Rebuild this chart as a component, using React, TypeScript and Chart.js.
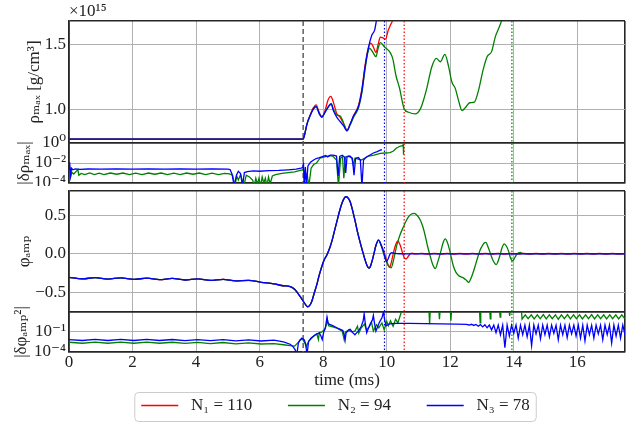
import React, { useEffect, useRef } from 'react';
import { Chart, registerables } from 'chart.js';

Chart.register(...registerables);

// ---------------- data ----------------
const TIME_TICKS = [0, 2, 4, 6, 8, 10, 12, 14, 16];
const T_MAX = 17.5;
const RHO_TICKS = [1.0, 1.5];
const DRHO_TICKS = [1e-4, 1e-2, 1];
const PHI_TICKS = [-0.5, 0, 0.5];
const DPHI_TICKS = [1e-4, 1e-1];
const SERIES_LABELS = ['N₁ = 110', 'N₂ = 94', 'N₃ = 78'];
const SERIES_COLORS = ['#ff0000', '#008000', '#0000ff'];
const MARKER_TIMES = [7.37, 9.93, 10.55, 13.94];
const MARKER_COLORS = ['#555555', '#0000ff', '#ff0000', '#008000'];
const RHO_SCALE_LABEL = '×10¹⁵';

type P = [number, number][];

const rhoN1: P = [[0, 0.771], [7.37, 0.771], [7.43, 0.82], [7.49, 0.886], [7.59, 0.955], [7.69, 1.01], [7.78, 1.034], [7.86, 0.985], [7.96, 0.945], [8.06, 0.99], [8.15, 1.07], [8.24, 1.10], [8.32, 1.055], [8.43, 0.965], [8.53, 0.94], [8.62, 0.9], [8.75, 0.84], [8.85, 0.886], [8.96, 0.951], [9.11, 1.03], [9.22, 1.16], [9.32, 1.34], [9.42, 1.47], [9.50, 1.509], [9.58, 1.48], [9.66, 1.436], [9.73, 1.5], [9.80, 1.556], [9.88, 1.55], [9.96, 1.54], [10.05, 1.61], [10.12, 1.65], [10.19, 1.685], [10.25, 1.72]];
const rhoN2: P = [[0, 0.77], [7.37, 0.77], [7.43, 0.82], [7.49, 0.886], [7.59, 0.951], [7.69, 1.0], [7.78, 1.02], [7.88, 0.964], [7.96, 0.94], [8.06, 0.977], [8.16, 1.02], [8.25, 1.045], [8.34, 0.99], [8.43, 0.955], [8.53, 0.95], [8.6, 0.92], [8.68, 0.87], [8.75, 0.834], [8.85, 0.88], [8.96, 0.94], [9.11, 1.01], [9.22, 1.13], [9.32, 1.31], [9.40, 1.43], [9.46, 1.47], [9.56, 1.44], [9.66, 1.405], [9.73, 1.47], [9.80, 1.514], [9.93, 1.48], [10.09, 1.444], [10.19, 1.39], [10.29, 1.26], [10.40, 1.166], [10.55, 1.003], [10.69, 0.977], [10.90, 0.964], [11.06, 1.003], [11.17, 1.08], [11.27, 1.171], [11.42, 1.327], [11.56, 1.392], [11.69, 1.366], [11.83, 1.423], [11.95, 1.327], [12.05, 1.21], [12.16, 1.159], [12.26, 1.068], [12.37, 0.99], [12.47, 1.011], [12.61, 1.05], [12.76, 1.055], [12.89, 1.146], [13.03, 1.30], [13.16, 1.405], [13.30, 1.444], [13.42, 1.56], [13.53, 1.626], [13.63, 1.69], [13.7, 1.73]];
const rhoN3: P = [[0, 0.77], [7.37, 0.77], [7.43, 0.82], [7.49, 0.886], [7.59, 0.951], [7.69, 1.003], [7.78, 1.02], [7.88, 0.964], [7.96, 0.938], [8.06, 0.977], [8.17, 1.02], [8.25, 1.04], [8.32, 0.99], [8.43, 0.938], [8.53, 0.907], [8.64, 0.873], [8.75, 0.834], [8.85, 0.886], [8.96, 0.951], [9.11, 1.02], [9.22, 1.146], [9.32, 1.327], [9.43, 1.48], [9.53, 1.57], [9.62, 1.61], [9.68, 1.69], [9.72, 1.75]];

const drhoN2: P = [[0, 0.0009], [0.02, 0.004], [0.05, 0.0004], [0.09, 0.0012], [0.15, 0.0008], [0.28, 0.0022], [0.31, 0.0006], [0.38, 0.0009], [0.5, 0.0007], [0.65, 0.001], [0.8, 0.0007], [0.95, 0.00095], [1.1, 0.0007], [1.3, 0.001], [1.5, 0.00075], [1.7, 0.001], [1.9, 0.0007], [2.1, 0.00095], [2.3, 0.0007], [2.5, 0.001], [2.7, 0.00075], [2.9, 0.001], [3.1, 0.0007], [3.3, 0.00095], [3.5, 0.0007], [3.7, 0.001], [3.9, 0.00075], [4.1, 0.001], [4.3, 0.0007], [4.5, 0.00095], [4.7, 0.0007], [4.9, 0.0009], [5.05, 0.0008], [5.15, 0.0006], [5.22, 0.00005], [5.28, 0.0005], [5.33, 0.0002], [5.4, 0.0007], [5.5, 0.00005], [5.58, 0.0006], [5.68, 0.0004], [5.78, 0.0002], [5.83, 0.00005], [5.88, 0.0003], [5.93, 0.00008], [5.98, 0.0003], [6.03, 0.00005], [6.08, 0.0004], [6.13, 0.0001], [6.18, 0.0003], [6.23, 0.00005], [6.28, 0.0004], [6.33, 0.00008], [6.4, 0.0005], [6.5, 0.0007], [6.7, 0.0009], [6.9, 0.0011], [7.1, 0.0013], [7.28, 0.0018], [7.36, 0.0021], [7.42, 0.0013], [7.5, 0.0006], [7.55, 0.00005], [7.62, 0.003], [7.7, 0.007], [7.79, 0.01], [7.9, 0.03], [8.05, 0.04], [8.2, 0.055], [8.3, 0.05], [8.42, 0.02], [8.48, 0.00005], [8.55, 0.03], [8.61, 0.04], [8.65, 0.0003], [8.7, 0.04], [8.8, 0.05], [8.9, 0.03], [8.95, 0.006], [9.0, 0.03], [9.1, 0.025], [9.2, 0.02], [9.3, 0.03], [9.44, 0.05], [9.6, 0.06], [9.8, 0.09], [9.95, 0.1], [10.1, 0.11], [10.2, 0.15], [10.3, 0.3], [10.43, 0.5], [10.5, 0.55], [10.52, 0.7], [10.53, 0.07]];
const drhoN3: P = [[0, 0.0025], [0.02, 0.012], [0.05, 0.0006], [0.08, 0.003], [0.12, 0.0021], [0.2, 0.0026], [0.35, 0.0023], [0.6, 0.0025], [1.0, 0.0024], [1.5, 0.0025], [2.0, 0.0024], [2.5, 0.0025], [3.0, 0.0024], [3.5, 0.0025], [4.0, 0.0024], [4.5, 0.0025], [5.0, 0.0024], [5.07, 0.0022], [5.13, 0.0008], [5.2, 0.00005], [5.27, 0.0006], [5.33, 0.0015], [5.4, 0.0009], [5.46, 0.00005], [5.52, 0.0011], [5.61, 0.0014], [5.8, 0.0016], [6.0, 0.0015], [6.3, 0.0017], [6.6, 0.0018], [6.9, 0.0021], [7.15, 0.0024], [7.3, 0.003], [7.36, 0.0035], [7.38, 0.012], [7.4, 0.00005], [7.44, 0.004], [7.47, 0.00005], [7.52, 0.005], [7.6, 0.012], [7.7, 0.02], [7.78, 0.028], [7.86, 0.032], [7.93, 0.038], [8.0, 0.045], [8.08, 0.055], [8.14, 0.04], [8.22, 0.06], [8.32, 0.062], [8.42, 0.05], [8.47, 0.0005], [8.52, 0.045], [8.6, 0.058], [8.67, 0.04], [8.71, 0.001], [8.75, 0.04], [8.84, 0.05], [8.92, 0.03], [8.97, 0.0006], [9.02, 0.03], [9.11, 0.035], [9.17, 0.02], [9.22, 0.00005], [9.27, 0.02], [9.36, 0.04], [9.46, 0.06], [9.58, 0.1], [9.7, 0.14], [9.78, 0.18], [9.85, 0.22]];

const phiCommon: P = [[0, -0.305], [0.42, -0.326], [0.82, -0.308], [1.22, -0.329], [1.63, -0.311], [2.04, -0.332], [2.45, -0.315], [2.85, -0.336], [3.25, -0.319], [3.65, -0.34], [4.05, -0.324], [4.45, -0.345], [4.85, -0.331], [5.25, -0.352], [5.65, -0.345], [6.05, -0.37], [6.45, -0.39], [6.75, -0.415], [6.96, -0.425], [7.1, -0.46], [7.2, -0.51], [7.3, -0.57], [7.38, -0.62], [7.45, -0.665], [7.51, -0.69], [7.57, -0.675], [7.64, -0.62], [7.72, -0.51], [7.80, -0.40], [7.88, -0.27], [7.96, -0.16], [8.04, -0.07], [8.12, -0.01], [8.2, 0.07], [8.27, 0.16], [8.35, 0.29], [8.43, 0.42], [8.51, 0.55], [8.59, 0.66], [8.66, 0.725], [8.72, 0.745], [8.78, 0.73], [8.85, 0.68], [8.93, 0.56], [9.01, 0.42], [9.09, 0.27], [9.17, 0.14], [9.25, 0.02], [9.32, -0.08], [9.39, -0.16], [9.45, -0.185], [9.52, -0.12], [9.59, -0.01], [9.66, 0.11], [9.74, 0.18]];
const phiTailN1: P = [[9.84, 0.10], [9.95, -0.02], [10.02, -0.12], [10.09, -0.175], [10.15, -0.1], [10.22, 0.03], [10.29, 0.13], [10.35, 0.165], [10.42, 0.12], [10.5, 0.01], [10.56, -0.055], [10.61, -0.065], [10.68, -0.03], [10.75, 0.005], [10.8, 0.01], [10.9, 0.0], [11.1, 0.006], [11.3, -0.002], [11.5, 0.006], [11.7, -0.002], [11.9, 0.006], [12.1, -0.002], [12.3, 0.006], [12.5, -0.002], [12.7, 0.006], [12.9, -0.002], [13.1, 0.006], [13.3, -0.002], [13.5, 0.006], [13.7, -0.002], [13.9, 0.006], [14.1, -0.002], [14.3, 0.006], [14.5, -0.002], [14.7, 0.006], [14.9, -0.002], [15.1, 0.006], [15.3, -0.002], [15.5, 0.006], [15.7, -0.002], [15.9, 0.006], [16.1, -0.002], [16.3, 0.006], [16.5, -0.002], [16.7, 0.006], [16.9, -0.002], [17.1, 0.006], [17.3, -0.002], [17.5, 0.004]];
const phiTailN2: P = [[9.84, 0.09], [9.95, -0.06], [10.05, -0.15], [10.14, -0.18], [10.22, -0.07], [10.32, 0.117], [10.42, 0.25], [10.53, 0.356], [10.61, 0.43], [10.69, 0.486], [10.78, 0.52], [10.87, 0.529], [10.96, 0.5], [11.06, 0.44], [11.14, 0.35], [11.21, 0.24], [11.28, 0.11], [11.37, -0.03], [11.45, -0.14], [11.53, -0.19], [11.61, -0.1], [11.69, 0.01], [11.77, 0.14], [11.84, 0.195], [11.91, 0.15], [11.98, 0.05], [12.04, -0.06], [12.10, -0.16], [12.18, -0.24], [12.26, -0.28], [12.34, -0.3], [12.42, -0.315], [12.5, -0.34], [12.58, -0.37], [12.66, -0.31], [12.73, -0.23], [12.81, -0.12], [12.89, -0.01], [12.95, 0.06], [13.0, 0.10], [13.06, 0.14], [13.12, 0.15], [13.19, 0.09], [13.26, 0.01], [13.35, -0.09], [13.45, -0.14], [13.51, -0.09], [13.57, -0.01], [13.63, 0.08], [13.70, 0.13], [13.77, 0.1], [13.84, 0.03], [13.9, -0.06], [13.96, -0.09], [14.03, -0.05], [14.10, 0.0], [14.2, 0.02], [14.3, 0.005], [17.5, 0.005]];
const phiTailN3: P = [[9.84, 0.10], [9.92, 0.0], [9.99, -0.1], [10.05, -0.06], [10.1, -0.005], [10.16, 0.015], [10.25, 0.008], [10.4, 0.002], [10.7, 0.0], [17.5, 0.0]];

const dphiN2: P = [[0, 0.0025], [0.42, 0.0018], [0.82, 0.0026], [1.22, 0.0018], [1.63, 0.0026], [2.04, 0.0018], [2.45, 0.0026], [2.85, 0.0018], [3.25, 0.0025], [3.65, 0.0017], [4.05, 0.0024], [4.45, 0.0016], [4.85, 0.0023], [5.25, 0.0015], [5.65, 0.0021], [6.05, 0.0014], [6.45, 0.0016], [6.75, 0.0011], [6.96, 0.0008], [7.1, 0.0007], [7.2, 0.002], [7.28, 0.0055], [7.35, 0.007], [7.42, 0.002], [7.47, 0.0006], [7.55, 0.004], [7.7, 0.018], [7.8, 0.04], [7.85, 0.006], [7.88, 0.06], [7.95, 0.07], [8.05, 0.18], [8.1, 0.8], [8.13, 5], [8.17, 0.6], [8.3, 0.4], [8.45, 0.25], [8.6, 0.1], [8.66, 0.006], [8.7, 0.08], [8.8, 0.12], [8.9, 0.08], [9.0, 0.1], [9.08, 0.5], [9.12, 0.05], [9.2, 0.3], [9.3, 1.0], [9.36, 0.15], [9.45, 0.4], [9.52, 2], [9.58, 0.1], [9.68, 0.8], [9.75, 0.3], [9.85, 1.5], [9.92, 0.15], [10.0, 2.5], [10.05, 0.6], [10.12, 3], [10.2, 0.5], [10.28, 5], [10.35, 1.5], [10.42, 15], [10.48, 100], [11.33, 100], [11.35, 1.0], [11.37, 100], [11.64, 100], [11.66, 5], [11.68, 100], [12.0, 100], [12.02, 3.2], [12.04, 100], [12.92, 100], [12.94, 1.5], [12.96, 100], [13.24, 100], [13.26, 5.6], [13.28, 100], [13.55, 100], [13.57, 10], [13.59, 100], [13.85, 100], [13.87, 15], [13.89, 100], [14.24, 100], [14.26, 5], [14.36, 21], [14.45, 6], [14.55, 22], [14.64, 5.5], [14.74, 21], [14.83, 6], [14.93, 23], [15.02, 5.5], [15.12, 21], [15.21, 6], [15.31, 22], [15.40, 5], [15.50, 21], [15.59, 6], [15.69, 23], [15.78, 5.5], [15.88, 21], [15.97, 6], [16.07, 22], [16.16, 5.5], [16.26, 21], [16.35, 6], [16.45, 23], [16.54, 5.5], [16.64, 21], [16.73, 6], [16.83, 22], [16.92, 5.5], [17.02, 21], [17.11, 6], [17.21, 22], [17.30, 5.5], [17.40, 21], [17.49, 6]];
const dphiN3: P = [[0, 0.006], [0.42, 0.0045], [0.82, 0.0065], [1.22, 0.0045], [1.63, 0.0065], [2.04, 0.0045], [2.45, 0.0065], [2.85, 0.0045], [3.25, 0.0062], [3.65, 0.0044], [4.05, 0.006], [4.45, 0.0042], [4.85, 0.0058], [5.25, 0.004], [5.65, 0.0055], [6.05, 0.0038], [6.45, 0.005], [6.75, 0.0028], [6.96, 0.0013], [7.05, 0.0006], [7.12, 0.0002], [7.17, 0.00004], [7.22, 0.002], [7.28, 0.006], [7.33, 0.01], [7.4, 0.006], [7.45, 0.0015], [7.49, 0.00004], [7.54, 0.003], [7.62, 0.01], [7.75, 0.03], [7.88, 0.056], [7.93, 0.02], [7.97, 0.006], [8.02, 0.08], [8.07, 0.3], [8.12, 10], [8.15, 1.5], [8.2, 0.9], [8.3, 0.6], [8.43, 0.3], [8.54, 0.18], [8.62, 0.12], [8.67, 0.02], [8.69, 0.005], [8.72, 0.05], [8.8, 0.15], [8.85, 0.18], [8.93, 0.06], [9.0, 0.03], [9.06, 0.06], [9.11, 0.1], [9.2, 0.5], [9.26, 3], [9.29, 30], [9.32, 2], [9.37, 0.06], [9.43, 0.3], [9.48, 1.0], [9.55, 4], [9.58, 18], [9.61, 2], [9.66, 0.1], [9.72, 0.5], [9.77, 1.8], [9.85, 8], [9.9, 60], [9.94, 3], [9.98, 0.56], [10.04, 0.8], [10.09, 1.1], [10.3, 1.3], [10.7, 1.25], [11.2, 1.2], [11.7, 1.1], [12.2, 1.0], [12.5, 0.9], [12.6, 0.75], [12.67, 0.95], [12.74, 0.65], [12.81, 0.9], [12.88, 0.5], [12.95, 0.85], [13.02, 0.4], [13.09, 0.8], [13.16, 0.3], [13.23, 0.75], [13.30, 0.15], [13.37, 0.72], [13.44, 0.06], [13.51, 0.75], [13.58, 0.03], [13.65, 0.7], [13.72, 0.0004], [13.79, 0.72], [13.86, 0.02], [13.93, 0.7], [14.0, 0.05], [14.07, 0.74], [14.14, 0.01], [14.21, 0.7], [14.28, 0.03], [14.35, 0.72], [14.42, 0.015], [14.49, 0.7], [14.56, 0.0008], [14.63, 0.74], [14.70, 0.04], [14.77, 0.7], [14.84, 0.008], [14.91, 0.72], [14.98, 0.03], [15.05, 0.7], [15.12, 0.015], [15.19, 0.74], [15.26, 0.05], [15.33, 0.7], [15.40, 0.006], [15.47, 0.72], [15.54, 0.03], [15.61, 0.7], [15.68, 0.012], [15.75, 0.74], [15.82, 0.04], [15.89, 0.7], [15.96, 0.02], [16.03, 0.72], [16.10, 0.01], [16.17, 0.7], [16.24, 0.004], [16.31, 0.74], [16.38, 0.03], [16.45, 0.7], [16.52, 0.01], [16.59, 0.72], [16.66, 0.04], [16.73, 0.7], [16.80, 0.006], [16.87, 0.74], [16.94, 0.03], [17.01, 0.7], [17.08, 0.002], [17.15, 0.72], [17.22, 0.02], [17.29, 0.7], [17.36, 0.01], [17.43, 0.72], [17.5, 0.03]];

// ---------------- style ----------------
const FONT = "'Liberation Serif', 'DejaVu Serif', serif";
const DARK = '#262626';
const GRID = '#b0b0b0';
const AXIS_W = 69;
const LINE_W = 1.3;
const LEGEND_SHIFT = 23;

Chart.defaults.font.family = FONT;
Chart.defaults.font.size = 17;
Chart.defaults.color = '#222222';

const SUP: Record<string, string> = { '-': '⁻', '0': '⁰', '1': '¹', '2': '²', '3': '³', '4': '⁴', '5': '⁵', '6': '⁶', '7': '⁷', '8': '⁸', '9': '⁹' };
const logLabel = (v: number) => '10' + String(Math.round(Math.log10(v))).split('').map((c) => SUP[c]).join('');
const linLabel = (v: number) => (v < 0 ? '−' : '') + Math.abs(v).toFixed(1);

const pts = (p: P) => p.map(([x, y]) => ({ x, y }));

function yAxis(cfg: any) {
  const all = Array.from(new Set([cfg.min, ...cfg.ticks, cfg.max])).sort((a: number, b: number) => a - b);
  const edge = (v: number) => v === cfg.min || v === cfg.max;
  return {
    type: cfg.type,
    position: 'left',
    stack: cfg.stack,
    stackWeight: cfg.sw,
    weight: cfg.w,
    min: cfg.min,
    max: cfg.max,
    afterBuildTicks: (s: any) => { s.ticks = all.map((v) => ({ value: v })); },
    afterFit: (s: any) => {
      s.width = AXIS_W;
      s.paddingTop = 0;
      s.paddingBottom = 0;
    },
    ticks: {
      autoSkip: false,
      padding: 3,
      callback: (v: number) => (cfg.ticks.includes(v) ? cfg.fmt(v) : ''),
    },
    grid: {
      drawTicks: false,
      color: (c: any) => (c.tick && edge(c.tick.value) ? DARK : GRID),
      lineWidth: (c: any) => (c.tick && edge(c.tick.value) ? 1.6 : 1),
    },
    border: { display: true, color: DARK, width: 1.6 },
    title: { display: true, text: cfg.title, padding: { top: cfg.tp, bottom: 0 } },
  };
}

function xAxis(showLabels: boolean, height: number) {
  const all = [...TIME_TICKS, T_MAX];
  return {
    type: 'linear',
    min: 0,
    max: T_MAX,
    afterBuildTicks: (s: any) => { s.ticks = all.map((v) => ({ value: v })); },
    afterFit: (s: any) => {
      s.height = height;
      s.paddingLeft = 0;
      s.paddingRight = 0;
    },
    ticks: {
      display: showLabels,
      autoSkip: false,
      maxRotation: 0,
      padding: 0,
      callback: (v: number) => (TIME_TICKS.includes(v) ? String(v) : ''),
    },
    grid: {
      drawTicks: false,
      color: (c: any) => (c.tick && (c.tick.value === 0 || c.tick.value === T_MAX) ? DARK : GRID),
      lineWidth: (c: any) => (c.tick && (c.tick.value === 0 || c.tick.value === T_MAX) ? 1.6 : 1),
    },
    border: { display: true, color: DARK, width: 1.6 },
    title: showLabels ? { display: true, text: 'time (ms)', padding: { top: 0, bottom: 0 } } : { display: false },
  };
}

function line(label: string, data: P, color: string, yAxisID: string, order: number, smooth: boolean) {
  return {
    label,
    data: pts(data),
    borderColor: color,
    backgroundColor: color,
    borderWidth: LINE_W,
    pointRadius: 0,
    fill: false,
    yAxisID,
    xAxisID: 'x',
    order,
    tension: smooth ? 0.4 : 0,
    cubicInterpolationMode: smooth ? 'monotone' : 'default',
  };
}

// clip each dataset to its own stacked panel
const panelClip = {
  id: 'panelClip',
  beforeDatasetDraw(chart: any, args: any) {
    const ys = args.meta.yScale;
    const a = chart.chartArea;
    chart.ctx.save();
    chart.ctx.beginPath();
    chart.ctx.rect(a.left, ys.top, a.right - a.left, ys.bottom - ys.top);
    chart.ctx.clip();
  },
  afterDatasetDraw(chart: any) {
    chart.ctx.restore();
  },
};

const markers = {
  id: 'markers',
  beforeDatasetsDraw(chart: any) {
    const { ctx, chartArea } = chart;
    const xs = chart.scales.x;
    MARKER_TIMES.forEach((t, i) => {
      const px = xs.getPixelForValue(t);
      ctx.save();
      ctx.strokeStyle = MARKER_COLORS[i];
      ctx.lineWidth = i === 0 ? 1.4 : 1.2;
      ctx.setLineDash(i === 0 ? [5, 3] : [1.5, 2]);
      ctx.beginPath();
      ctx.moveTo(px, chartArea.top);
      ctx.lineTo(px, chartArea.bottom);
      ctx.stroke();
      ctx.restore();
    });
  },
};

const offsetLabel = {
  id: 'offsetLabel',
  afterDraw(chart: any) {
    const { ctx, chartArea } = chart;
    ctx.save();
    ctx.font = `17px ${FONT}`;
    ctx.fillStyle = '#222222';
    ctx.textAlign = 'left';
    ctx.textBaseline = 'bottom';
    ctx.fillText(RHO_SCALE_LABEL, chartArea.left, chartArea.top - 1);
    ctx.restore();
  },
};

const legendTweak = {
  id: 'legendTweak',
  afterLayout(chart: any) {
    if (chart.legend) {
      chart.legend.left += LEGEND_SHIFT;
      chart.legend.right += LEGEND_SHIFT;
    }
  },
  afterDraw(chart: any) {
    const lg = chart.legend;
    if (!lg || !lg.legendHitBoxes || !lg.legendHitBoxes.length) return;
    const hb = lg.legendHitBoxes;
    const x0 = hb[0].left - 7;
    const last = hb[hb.length - 1];
    const x1 = last.left + last.width + 6;
    const y0 = lg.top + 1;
    const y1 = lg.top + 30;
    const ctx = chart.ctx;
    ctx.save();
    ctx.strokeStyle = '#cccccc';
    ctx.lineWidth = 1;
    ctx.beginPath();
    ctx.roundRect(x0 + 0.5, y0 + 0.5, x1 - x0, y1 - y0, 4);
    ctx.stroke();
    ctx.restore();
  },
};

function topConfig(): any {
  return {
    type: 'line',
    data: {
      datasets: [
        line(SERIES_LABELS[0], rhoN1, SERIES_COLORS[0], 'yRho', 3, true),
        line(SERIES_LABELS[1], rhoN2, SERIES_COLORS[1], 'yRho', 2, true),
        line(SERIES_LABELS[2], rhoN3, SERIES_COLORS[2], 'yRho', 1, true),
        line(SERIES_LABELS[1], drhoN2, SERIES_COLORS[1], 'yDrho', 2, false),
        line(SERIES_LABELS[2], drhoN3, SERIES_COLORS[2], 'yDrho', 1, false),
      ],
    },
    options: {
      responsive: false,
      animation: false,
      events: [],
      layout: { padding: { top: 21, right: 18, bottom: 3, left: 0 } },
      plugins: { legend: { display: false }, tooltip: { enabled: false } },
      scales: {
        x: xAxis(false, 0),
        yRho: yAxis({ type: 'linear', stack: 'top', sw: 122, w: 2, min: 0.74, max: 1.68, ticks: RHO_TICKS, fmt: linLabel, title: 'ρₘₐₓ [g/cm³]', tp: 24 }),
        yDrho: yAxis({ type: 'logarithmic', stack: 'top', sw: 40, w: 1, min: 1e-4, max: 1, ticks: DRHO_TICKS, fmt: logLabel, title: '|δρₘₐₓ|', tp: 14 }),
      },
    },
    plugins: [panelClip, markers, offsetLabel],
  };
}

function bottomConfig(): any {
  return {
    type: 'line',
    data: {
      datasets: [
        line(SERIES_LABELS[0], [...phiCommon, ...phiTailN1], SERIES_COLORS[0], 'yPhi', 3, true),
        line(SERIES_LABELS[1], [...phiCommon, ...phiTailN2], SERIES_COLORS[1], 'yPhi', 2, true),
        line(SERIES_LABELS[2], [...phiCommon, ...phiTailN3], SERIES_COLORS[2], 'yPhi', 1, true),
        line(SERIES_LABELS[1], dphiN2, SERIES_COLORS[1], 'yDphi', 2, false),
        line(SERIES_LABELS[2], dphiN3, SERIES_COLORS[2], 'yDphi', 1, false),
      ],
    },
    options: {
      responsive: false,
      animation: false,
      events: [],
      layout: { padding: { top: 5, right: 18, bottom: 0, left: 0 } },
      plugins: {
        tooltip: { enabled: false },
        legend: {
          display: true,
          position: 'bottom',
          labels: {
            usePointStyle: true,
            pointStyle: 'line',
            pointStyleWidth: 37,
            padding: 6,
            color: '#222222',
            font: { size: 17 },
            filter: (item: any) => item.datasetIndex < 3,
            sort: (a: any, b: any) => a.datasetIndex - b.datasetIndex,
            generateLabels: (chart: any) => {
              const items = Chart.defaults.plugins.legend.labels.generateLabels(chart);
              return items.map((it: any) => ({
                ...it,
                text: ' ' + it.text + (it.datasetIndex < 2 ? '       ' : ''),
                lineWidth: LINE_W,
              }));
            },
          },
        },
      },
      scales: {
        x: xAxis(true, 39),
        yPhi: yAxis({ type: 'linear', stack: 'bot', sw: 121, w: 2, min: -0.757, max: 0.82, ticks: PHI_TICKS, fmt: linLabel, title: 'φₐₘₚ', tp: 14 }),
        yDphi: yAxis({ type: 'logarithmic', stack: 'bot', sw: 40, w: 1, min: 1e-4, max: 55, ticks: DPHI_TICKS, fmt: logLabel, title: '|δφₐₘₚ²|', tp: 11 }),
      },
    },
    plugins: [panelClip, markers, legendTweak],
  };
}

export default function App() {
  const topRef = useRef<HTMLCanvasElement>(null);
  const botRef = useRef<HTMLCanvasElement>(null);
  useEffect(() => {
    const c1 = new Chart(topRef.current as HTMLCanvasElement, topConfig());
    const c2 = new Chart(botRef.current as HTMLCanvasElement, bottomConfig());
    return () => {
      c1.destroy();
      c2.destroy();
    };
  }, []);
  return (
    <div style={{ position: 'fixed', left: 0, top: 0, width: 643, height: 424, background: '#ffffff', overflow: 'hidden' }}>
      <canvas ref={topRef} width={643} height={186} style={{ position: 'absolute', left: 0, top: 0, display: 'block' }} />
      <canvas ref={botRef} width={643} height={238} style={{ position: 'absolute', left: 0, top: 186, display: 'block' }} />
    </div>
  );
}
